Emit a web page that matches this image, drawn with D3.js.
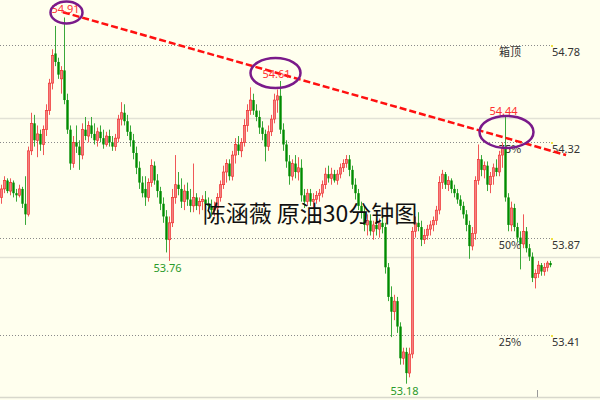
<!DOCTYPE html>
<html><head><meta charset="utf-8">
<script src="https://cdn.jsdelivr.net/npm/d3@7"></script>
<style>html,body{margin:0;padding:0;background:#ffffee;}svg{display:block;}</style>
</head><body>
<svg id="c" width="600" height="400"></svg>
<script>
const opens = [54.06,54.10,54.14,54.09,54.13,54.08,54.07,54.10,54.03,53.98,54.28,54.41,54.33,54.36,54.31,54.38,54.47,54.60,54.74,54.70,
54.62,54.66,54.52,54.38,54.22,54.32,54.30,54.26,54.38,54.35,54.40,54.36,54.33,54.37,54.34,54.31,54.35,54.32,54.30,54.34,
54.43,54.46,54.42,54.37,54.33,54.27,54.20,54.13,54.10,54.06,54.13,54.21,54.14,54.09,54.03,53.97,53.86,53.94,54.06,54.12,
54.10,54.04,54.09,54.05,54.02,54.06,54.02,54.04,54.05,54.03,54.02,54.00,54.01,54.06,54.12,54.18,54.22,54.16,54.26,54.31,
54.28,54.32,54.40,54.47,54.52,54.47,54.44,54.39,54.36,54.30,54.37,54.43,54.52,54.54,54.38,54.31,54.23,54.16,54.22,54.18,
54.20,54.07,54.04,54.08,54.04,54.05,54.07,54.08,54.12,54.17,54.15,54.17,54.14,54.17,54.20,54.22,54.24,54.19,54.12,54.08,
54.02,53.99,53.93,53.95,53.90,53.93,53.91,53.94,53.92,53.73,53.59,53.52,53.57,53.45,53.30,53.33,53.23,53.32,53.90,53.94,
53.92,53.86,53.88,53.91,53.93,53.95,54.00,54.13,54.17,54.12,54.14,54.10,54.08,54.05,54.02,53.98,53.93,53.83,53.89,54.14,
54.24,54.19,54.21,54.12,54.16,54.20,54.18,54.26,54.29,54.06,53.93,54.01,53.92,53.87,53.84,53.90,53.82,53.78,53.68,53.70,
53.74,53.71,53.73,53.75];
const highs = [54.12,54.16,54.15,54.15,54.14,54.10,54.12,54.11,54.16,54.30,54.46,54.45,54.40,54.38,54.40,54.50,54.62,54.76,54.87,54.72,
54.68,54.91,54.55,54.40,54.35,54.40,54.33,54.41,54.44,54.42,54.44,54.41,54.39,54.40,54.38,54.37,54.38,54.35,54.36,54.45,
54.51,54.50,54.45,54.40,54.36,54.30,54.23,54.16,54.16,54.15,54.24,54.23,54.17,54.11,54.06,54.00,53.97,54.10,54.26,54.18,
54.15,54.12,54.13,54.10,54.22,54.08,54.06,54.07,54.09,54.06,54.05,54.04,54.08,54.14,54.21,54.24,54.24,54.28,54.34,54.35,
54.34,54.43,54.50,54.58,54.55,54.50,54.47,54.42,54.38,54.40,54.45,54.55,54.57,54.61,54.41,54.33,54.26,54.24,54.26,54.25,
54.24,54.10,54.10,54.10,54.08,54.09,54.10,54.14,54.20,54.21,54.20,54.19,54.19,54.22,54.24,54.26,54.26,54.21,54.15,54.10,
54.04,54.02,53.98,53.98,53.95,53.96,53.96,53.97,53.94,53.75,53.64,53.60,53.59,53.47,53.35,53.35,53.35,53.92,53.97,53.99,
53.95,53.91,53.93,53.95,53.97,54.02,54.16,54.19,54.18,54.16,54.15,54.12,54.10,54.07,54.04,54.00,53.95,53.92,54.16,54.31,
54.26,54.23,54.23,54.18,54.22,54.24,54.28,54.32,54.44,54.08,54.04,54.03,53.94,53.90,53.98,53.92,53.84,53.80,53.72,53.76,
53.75,53.75,53.76,53.76];
const lows = [54.03,54.08,54.08,54.07,54.06,54.04,54.06,54.01,53.93,53.97,54.26,54.30,54.25,54.28,54.26,54.35,54.45,54.57,54.68,54.62,
54.55,54.50,54.36,54.19,54.20,54.27,54.19,54.24,54.33,54.32,54.34,54.31,54.30,54.32,54.29,54.30,54.30,54.28,54.28,54.32,
54.40,54.40,54.35,54.30,54.24,54.17,54.10,54.06,54.02,54.04,54.11,54.12,54.06,54.00,53.94,53.80,53.76,53.92,54.03,54.07,
54.01,54.00,54.02,53.99,53.99,54.00,53.98,54.00,54.02,53.99,53.97,53.97,53.99,54.04,54.10,54.13,54.14,54.14,54.22,54.26,
54.25,54.30,54.37,54.45,54.45,54.42,54.36,54.33,54.23,54.28,54.35,54.41,54.46,54.36,54.28,54.20,54.12,54.14,54.15,54.14,
54.04,54.01,54.02,54.02,54.01,54.03,54.04,54.06,54.10,54.13,54.12,54.13,54.12,54.15,54.18,54.20,54.16,54.10,54.05,54.00,
53.96,53.90,53.88,53.88,53.86,53.88,53.87,53.89,53.70,53.57,53.40,53.48,53.42,53.27,53.27,53.18,53.21,53.30,53.87,53.90,
53.83,53.84,53.86,53.88,53.90,53.93,53.98,54.10,54.10,54.09,54.08,54.06,54.03,54.00,53.96,53.90,53.77,53.81,53.86,54.12,
54.16,54.15,54.09,54.08,54.12,54.16,54.16,54.20,54.04,53.90,53.90,53.90,53.85,53.72,53.82,53.80,53.76,53.66,53.63,53.68,
53.69,53.69,53.71,53.73];
const closes = [54.10,54.14,54.09,54.13,54.08,54.07,54.10,54.03,53.98,54.28,54.41,54.33,54.36,54.31,54.38,54.47,54.60,54.73,54.70,54.64,
54.66,54.52,54.38,54.22,54.32,54.30,54.26,54.38,54.35,54.40,54.36,54.33,54.37,54.34,54.31,54.35,54.32,54.30,54.34,54.43,
54.46,54.42,54.37,54.33,54.27,54.20,54.13,54.08,54.06,54.13,54.21,54.14,54.09,54.03,53.97,53.86,53.94,54.06,54.12,54.10,
54.04,54.09,54.05,54.02,54.06,54.02,54.04,54.05,54.03,54.02,54.00,54.01,54.06,54.12,54.18,54.22,54.16,54.26,54.31,54.28,
54.32,54.40,54.47,54.52,54.47,54.44,54.39,54.36,54.30,54.37,54.43,54.52,54.54,54.38,54.31,54.23,54.16,54.22,54.18,54.20,
54.07,54.04,54.08,54.04,54.05,54.07,54.08,54.12,54.17,54.15,54.17,54.14,54.17,54.20,54.22,54.24,54.19,54.12,54.08,54.02,
53.99,53.93,53.95,53.90,53.93,53.91,53.94,53.92,53.73,53.59,53.52,53.57,53.45,53.30,53.33,53.23,53.32,53.90,53.94,53.92,
53.86,53.88,53.91,53.93,53.95,54.00,54.13,54.17,54.12,54.14,54.10,54.08,54.05,54.02,53.98,53.93,53.83,53.89,54.14,54.24,
54.19,54.21,54.12,54.16,54.20,54.18,54.26,54.29,54.06,53.93,54.01,53.92,53.87,53.84,53.90,53.82,53.78,53.68,53.70,53.74,
53.71,53.73,53.75,53.74];

const levelPrices = [54.78, 54.32, 53.87, 53.41];
const levelNames = ["箱顶", "75%", "50%", "25%"];
const gridPrices = [54.435, 53.78];
const highMarks = [{i:21, p:54.91, t:"54.91"}, {i:93, p:54.61, t:"54.61"}, {i:168, p:54.44, t:"54.44"}];
const lowMarks = [{i:56, p:53.76, t:"53.76"}, {i:135, p:53.18, t:"53.18"}];
const trendIdx = [20.5, 188.2];
const trendPrice = [54.935, 54.26];
const title = "陈涵薇 原油30分钟图";

const svg = d3.select("#c");
const W = 600, H = 400;
const N = closes.length;
const x = d3.scaleLinear().domain([0, N - 1]).range([1.5, 550.5]);
const y = d3.scaleLinear().domain([53.41, 54.78]).range([335, 45]);

svg.append("rect").attr("width", W).attr("height", H).attr("fill", "#ffffee");

// light solid grid lines
svg.selectAll(".grid").data(gridPrices).enter().append("line")
  .attr("x1", 0).attr("x2", W).attr("y1", d => Math.round(y(d)) + 0.5).attr("y2", d => Math.round(y(d)) + 0.5)
  .attr("stroke", "#e2e2d6").attr("stroke-width", 1.5);
svg.append("line").attr("x1", 0).attr("x2", W).attr("y1", 397.5).attr("y2", 397.5)
  .attr("stroke", "#d8d8cc").attr("stroke-width", 1.5);
svg.append("line").attr("x1", 537.5).attr("x2", 537.5).attr("y1", 390).attr("y2", 397)
  .attr("stroke", "#999").attr("stroke-width", 1);

// dotted level lines
svg.selectAll(".lvl").data(levelPrices).enter().append("line")
  .attr("x1", 0).attr("x2", 551).attr("y1", d => Math.round(y(d)) + 0.5).attr("y2", d => Math.round(y(d)) + 0.5)
  .attr("stroke", "#8a8a8a").attr("stroke-width", 1).attr("stroke-dasharray", "1,2");
svg.selectAll(".lvldot").data(levelPrices).enter().append("rect")
  .attr("x", 551).attr("y", d => Math.round(y(d))).attr("width", 2).attr("height", 2).attr("fill", "#f0e040");
svg.selectAll(".lvlname").data(levelPrices).enter().append("text")
  .attr("x", 510).attr("y", d => y(d) + 11).attr("text-anchor", "middle")
  .attr("font-family", "Noto Sans CJK SC, Noto Sans, sans-serif").attr("font-size", 11).attr("fill", "#333")
  .text((d, k) => levelNames[k]);
svg.selectAll(".lvlval").data(levelPrices).enter().append("text")
  .attr("x", 552).attr("y", d => y(d) + 11)
  .attr("font-family", "Noto Sans, sans-serif").attr("font-size", 11).attr("fill", "#333")
  .text(d => d.toFixed(2));

// candles
const data = d3.range(N).map(i => ({i, o: opens[i], h: highs[i], l: lows[i], c: closes[i]}));
const up = d => d.c >= d.o;
const g = svg.append("g");
g.selectAll(".wick").data(data).enter().append("line")
  .attr("x1", d => x(d.i)).attr("x2", d => x(d.i))
  .attr("y1", d => y(d.h)).attr("y2", d => y(d.l))
  .attr("stroke", d => up(d) ? "#f05858" : "#3aa83a").attr("stroke-width", 1);
g.selectAll(".body").data(data).enter().append("rect")
  .attr("x", d => x(d.i) - 1.2).attr("width", 2.4)
  .attr("y", d => y(Math.max(d.o, d.c)))
  .attr("height", d => Math.max(1, Math.abs(y(d.o) - y(d.c))))
  .attr("fill", d => up(d) ? "#f48080" : "#008c00")
  .attr("stroke", d => up(d) ? "#ee2828" : "none").attr("stroke-width", 0.6);

// trend line
svg.append("line")
  .attr("x1", x(trendIdx[0])).attr("y1", y(trendPrice[0]))
  .attr("x2", x(trendIdx[1])).attr("y2", y(trendPrice[1]))
  .attr("stroke", "#ff1010").attr("stroke-width", 2.5).attr("stroke-dasharray", "7,3");

// high marks
const hiLayout = [{lx:1, ly:-4, ex:2, ey:-5, rx:16, ry:11}, {lx:-4, ly:-3, ex:-5, ey:-8, rx:25, ry:15}, {lx:-2, ly:-2, ex:1, ey:15, rx:27, ry:16}];
svg.selectAll(".hl").data(highMarks).enter().append("text")
  .attr("x", (d, k) => x(d.i) + hiLayout[k].lx).attr("y", (d, k) => y(d.p) + hiLayout[k].ly)
  .attr("text-anchor", "middle").attr("font-family", "Noto Sans, sans-serif").attr("font-size", 11)
  .attr("fill", "#ff3030").text(d => d.t);
svg.selectAll(".he").data(highMarks).enter().append("ellipse")
  .attr("cx", (d, k) => x(d.i) + hiLayout[k].ex).attr("cy", (d, k) => y(d.p) + hiLayout[k].ey)
  .attr("rx", (d, k) => hiLayout[k].rx).attr("ry", (d, k) => hiLayout[k].ry)
  .attr("fill", "none").attr("stroke", "#7a1a8a").attr("stroke-width", 2.5);

// low marks
svg.selectAll(".ll").data(lowMarks).enter().append("text")
  .attr("x", d => x(d.i) - 2).attr("y", d => y(d.p) + 11)
  .attr("text-anchor", "middle").attr("font-family", "Noto Sans, sans-serif").attr("font-size", 11)
  .attr("fill", "#2a9a2a").text(d => d.t);

// watermark title
svg.append("text").attr("x", 310).attr("y", 222).attr("text-anchor", "middle")
  .attr("font-family", "Noto Sans CJK SC, sans-serif").attr("font-size", 23).attr("fill", "#111")
  .text(title);
</script>
</body></html>
